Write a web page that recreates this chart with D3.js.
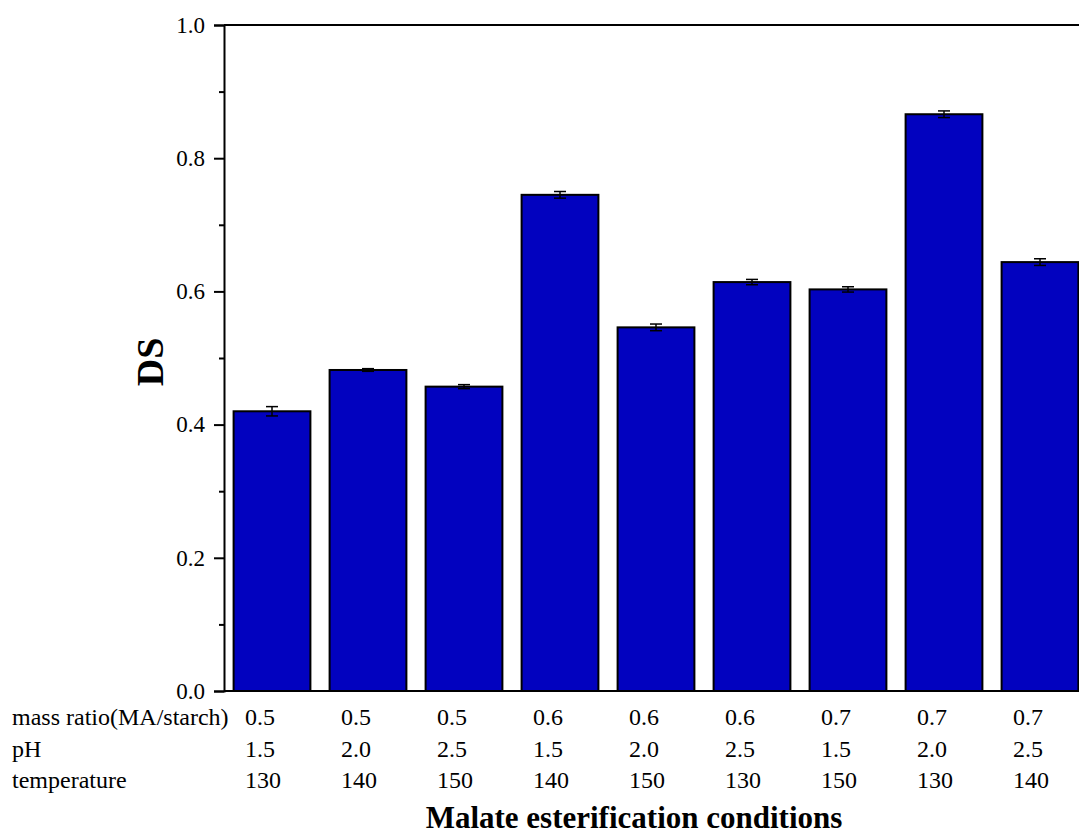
<!DOCTYPE html>
<html>
<head>
<meta charset="utf-8">
<script src="https://cdn.jsdelivr.net/npm/d3@7"></script>
<style>
  body { margin: 0; background: #fff; }
  svg { display: block; font-family: "Liberation Serif", "Times New Roman", serif; }
</style>
</head>
<body>
<div id="chart"></div>
<script>
// DS values, one per condition
const dsValues = [0.420, 0.482, 0.457, 0.745, 0.546, 0.614, 0.603, 0.866, 0.644];
const dsErrors = [0.007, 0.002, 0.003, 0.005, 0.005, 0.004, 0.004, 0.005, 0.005];

// the three label rows under the axis
const rowNames = ["mass ratio(MA/starch)", "pH", "temperature"];
const massRatio = ["0.5", "0.5", "0.5", "0.6", "0.6", "0.6", "0.7", "0.7", "0.7"];
const phValues = ["1.5", "2.0", "2.5", "1.5", "2.0", "2.5", "1.5", "2.0", "2.5"];
const temperature = ["130", "140", "150", "140", "150", "130", "150", "130", "140"];

const yTicks = [0, 0.2, 0.4, 0.6, 0.8, 1.0];
const yMinor = [0.1, 0.3, 0.5, 0.7, 0.9];

const width = 1079, height = 834;
const margin = {top: 25, left: 224, bottom: 143};
const serif = "'Liberation Serif', 'Times New Roman', serif";

const svg = d3.select("#chart").append("svg")
  .attr("width", width)
  .attr("height", height);

const x = d3.scaleBand()
  .domain(d3.range(dsValues.length))
  .range([margin.left, margin.left + 96 * dsValues.length])
  .paddingInner(0.2)
  .paddingOuter(0.1);

const y = d3.scaleLinear()
  .domain([0, 1])
  .range([height - margin.bottom, margin.top]);

// bars
svg.append("g").selectAll("rect")
  .data(dsValues)
  .join("rect")
    .attr("x", (d, i) => x(i))
    .attr("y", d => y(d))
    .attr("width", x.bandwidth())
    .attr("height", d => y(0) - y(d))
    .attr("fill", "#0202bf")
    .attr("stroke", "#000")
    .attr("stroke-width", 2);

// error bars
const err = svg.append("g").attr("stroke", "#000").attr("stroke-width", 1.5);
dsValues.forEach((d, i) => {
  const cx = x(i) + x.bandwidth() / 2;
  const e = dsErrors[i];
  err.append("line").attr("x1", cx).attr("x2", cx).attr("y1", y(d + e)).attr("y2", y(d - e));
  err.append("line").attr("x1", cx - 6).attr("x2", cx + 6).attr("y1", y(d + e)).attr("y2", y(d + e));
  err.append("line").attr("x1", cx - 6).attr("x2", cx + 6).attr("y1", y(d - e)).attr("y2", y(d - e));
});

// left axis with major ticks
const yAxis = svg.append("g")
  .attr("transform", `translate(${margin.left},0)`)
  .call(d3.axisLeft(y).tickValues(yTicks).tickFormat(d3.format(".1f")).tickSize(10).tickPadding(9));
yAxis.attr("font-family", serif);
yAxis.select(".domain").attr("stroke-width", 2);
yAxis.selectAll(".tick line").attr("stroke-width", 2);
yAxis.selectAll("text").attr("font-size", 23).attr("fill", "#000");

// minor ticks
svg.append("g")
  .attr("transform", `translate(${margin.left},0)`)
  .call(d3.axisLeft(y).tickValues(yMinor).tickFormat("").tickSize(5))
  .call(g => g.select(".domain").remove())
  .selectAll("line").attr("stroke-width", 2);

// bottom and top frame lines
svg.append("line")
  .attr("x1", margin.left).attr("x2", width)
  .attr("y1", y(0)).attr("y2", y(0))
  .attr("stroke", "#000").attr("stroke-width", 2);
svg.append("line")
  .attr("x1", margin.left).attr("x2", width)
  .attr("y1", y(1)).attr("y2", y(1))
  .attr("stroke", "#000").attr("stroke-width", 2);

// condition table under the bars
const rows = [massRatio, phValues, temperature];
const rowBase = [725, 757, 788];
rows.forEach((vals, r) => {
  svg.append("text")
    .attr("x", 12).attr("y", rowBase[r])
    .attr("font-family", serif)
    .attr("font-size", 24)
    .text(rowNames[r]);
  svg.append("g").selectAll("text")
    .data(vals)
    .join("text")
      .attr("x", (d, i) => x(i) + x.bandwidth() / 2 - 27)
      .attr("y", rowBase[r])
      .attr("font-family", serif)
      .attr("font-size", 24)
      .text(d => d);
});

// axis titles
svg.append("text")
  .attr("transform", `translate(163,362) rotate(-90)`)
  .attr("text-anchor", "middle")
  .attr("font-family", serif)
  .attr("font-size", 38)
  .attr("font-weight", "bold")
  .text("DS");

svg.append("text")
  .attr("x", 634).attr("y", 828)
  .attr("text-anchor", "middle")
  .attr("font-family", serif)
  .attr("font-size", 31)
  .attr("font-weight", "bold")
  .text("Malate esterification conditions");
</script>
</body>
</html>
